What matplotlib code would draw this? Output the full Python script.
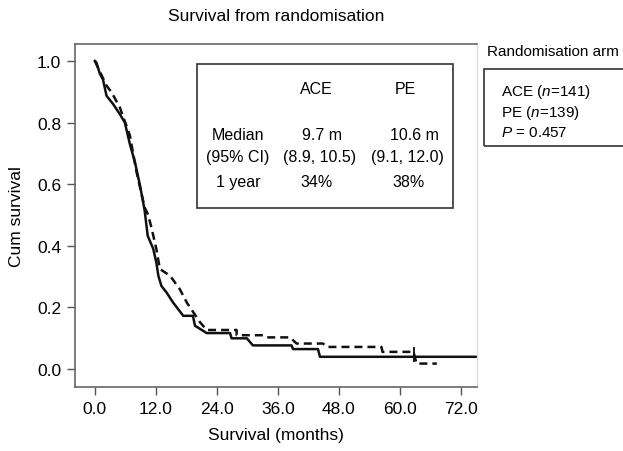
import matplotlib
matplotlib.use("Agg")
import matplotlib.pyplot as plt
from matplotlib.patches import Rectangle

# Kaplan-Meier curve vertices (months, cum survival)
ace_t = [0, 0.3, 1.0, 1.6, 2.3, 3.6, 4.9, 5.9, 6.9, 7.9, 8.9, 9.8, 10.4, 11.5,
         12.1, 12.5, 13.1, 14.1, 15.4, 17.4, 19.3, 19.7, 22.0, 26.6, 26.9,
         29.9, 31.1, 38.7, 39.0, 43.9, 44.3, 78]
ace_s = [1.0, 0.995, 0.958, 0.94, 0.887, 0.86, 0.828, 0.80, 0.73, 0.671,
         0.595, 0.515, 0.433, 0.39, 0.346, 0.303, 0.27, 0.249, 0.216, 0.173,
         0.173, 0.141, 0.117, 0.117, 0.1, 0.1, 0.077, 0.077, 0.065, 0.065,
         0.04, 0.04]

pe_t = [0, 2.3, 3.3, 4.9, 6.9, 8.2, 9.8, 10.5, 11.2, 12.1, 12.8, 14.8, 16.7,
        18.1, 19.4, 20.7, 22.0, 27.9, 27.9, 33.1, 33.8, 38.4, 39.7, 44.9,
        45.6, 56.4, 56.6, 62.7, 63.3, 67.3]
pe_s = [1.0, 0.92, 0.898, 0.85, 0.758, 0.64, 0.525, 0.50, 0.455, 0.39, 0.325,
        0.303, 0.26, 0.216, 0.184, 0.152, 0.127, 0.127, 0.11, 0.11, 0.103,
        0.103, 0.083, 0.083, 0.072, 0.072, 0.056, 0.056, 0.018, 0.018]

# censored observations shown as ticks
ace_cens_t = [62.7]
ace_cens_s = [0.04]
pe_cens_t = [62.7]
pe_cens_s = [0.056]

x_ticks = [0, 12, 24, 36, 48, 60, 72]
y_ticks = [0.0, 0.2, 0.4, 0.6, 0.8, 1.0]

table_rows = ["Median", "(95% CI)", "1 year"]
ace_vals = ["9.7 m", "(8.9, 10.5)", "34%"]
pe_vals = ["10.6 m", "(9.1, 12.0)", "38%"]
legend_lines = ["ACE ($n$=141)", "PE ($n$=139)", "$P$ = 0.457"]

plt.rcParams.update({
    "font.family": ["Liberation Sans", "DejaVu Sans"],
    "mathtext.fontset": "custom",
    "mathtext.rm": "Liberation Sans",
    "mathtext.it": "Liberation Sans:italic",
})

fig = plt.figure(figsize=(6.23, 4.52), dpi=100)
ax = fig.add_axes([0.1204, 0.1416, 0.6453, 0.7588])

ax.plot(ace_t, ace_s, color="#111111", lw=1.8)
ax.plot(pe_t, pe_s, color="#111111", lw=1.8, ls=(0, (3.2, 2.0)))
ax.plot(ace_cens_t, ace_cens_s, ls="none", marker="|", ms=7, mew=1.3, color="#111111")
ax.plot(pe_cens_t, pe_cens_s, ls="none", marker="|", ms=7, mew=1.3, color="#111111")

ax.set_xlim(-3.9, 75.2)
ax.set_ylim(-0.058, 1.055)
ax.set_xticks(x_ticks)
ax.set_xticklabels([f"{v:.1f}" for v in x_ticks])
ax.set_yticks(y_ticks)
ax.set_yticklabels([f"{v:.1f}" for v in y_ticks])
ax.tick_params(direction="out", length=6, width=1.0, color="#555555",
               labelsize=12.5, pad=4)
for side in ["left", "bottom", "top"]:
    ax.spines[side].set_color("#666666")
    ax.spines[side].set_linewidth(1.2)
ax.spines["right"].set_color("#dddddd")
ax.spines["right"].set_linewidth(1.0)

ax.set_xlabel("Survival (months)", fontsize=12.5, labelpad=8)
ax.set_ylabel("Cum survival", fontsize=12.5, labelpad=9)
ax.set_title("Survival from randomisation", fontsize=12.5, pad=17)

# summary table box inside the plot
ax.add_patch(Rectangle((0.3027, 0.5219), 0.6369, 0.4198, transform=ax.transAxes,
                       fill=False, ec="#333333", lw=1.2))
ax.text(0.5995, 0.8717, "ACE", transform=ax.transAxes, ha="center", va="center", fontsize=11.5)
ax.text(0.8226, 0.8717, "PE", transform=ax.transAxes, ha="center", va="center", fontsize=11.5)
row_y = [0.7376, 0.6706, 0.6006]
col1_x = [0.6144, 0.6094, 0.6020]
col2_x = [0.8433, 0.8259, 0.8308]
for i, lab in enumerate(table_rows):
    ax.text(0.4055, row_y[i], lab, transform=ax.transAxes, ha="center", va="center", fontsize=11.5)
    ax.text(col1_x[i], row_y[i], ace_vals[i], transform=ax.transAxes, ha="center", va="center", fontsize=11.5)
    ax.text(col2_x[i], row_y[i], pe_vals[i], transform=ax.transAxes, ha="center", va="center", fontsize=11.5)

# legend on the right, box runs off the right edge as in the reference
W, H = 623, 452
fig.text(487 / W, 1 - 52 / H, "Randomisation arm", ha="left", va="center", fontsize=11)
fig.patches.append(Rectangle((484 / W, 1 - 147 / H), 170 / W, 77 / H,
                             transform=fig.transFigure, fill=False,
                             ec="#333333", lw=1.2))
for i, line in enumerate(legend_lines):
    fig.text(501 / W, 1 - (92 + 20.5 * i) / H, line, ha="left", va="center", fontsize=11)

fig.savefig("out.png", dpi=100)
